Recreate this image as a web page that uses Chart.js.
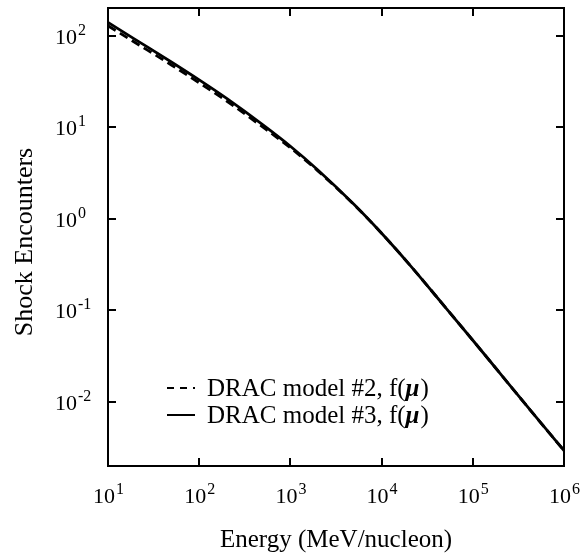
<!DOCTYPE html>
<html>
<head>
<meta charset="utf-8">
<script src="https://cdn.jsdelivr.net/npm/chart.js@4/dist/chart.umd.min.js"></script>
<style>
  body { margin: 0; background: #fff; }
  canvas { display: block; }
</style>
</head>
<body>
<canvas id="myChart" width="582" height="553"></canvas>
<script>
// energy grid (MeV/nucleon)
const energy = [10, 20, 50, 100, 200, 500, 1000, 2000, 5000, 1e4, 2e4, 5e4, 1e5, 2e5, 5e5, 1e6];
// shock encounters
const model2 = [128, 83.5, 47.5, 30.5, 19.3, 10.0, 5.95, 3.33, 1.42, 0.695, 0.32, 0.108, 0.0472, 0.0204, 0.00673, 0.00295];
const model3 = [139, 90.4, 51.2, 32.8, 20.6, 10.6, 6.19, 3.41, 1.43, 0.695, 0.32, 0.108, 0.0472, 0.0204, 0.00673, 0.00295];

const seriesLabels = ["DRAC model #2, f(μ)", "DRAC model #3, f(μ)"];
const xTickValues = [1e1, 1e2, 1e3, 1e4, 1e5, 1e6];
const xTickExp = ["1", "2", "3", "4", "5", "6"];
const yTickValues = [1e-2, 1e-1, 1e0, 1e1, 1e2];
const yTickExp = ["-2", "-1", "0", "1", "2"];
const xTitle = "Energy (MeV/nucleon)";
const yTitle = "Shock Encounters";

const serif = "'Liberation Serif', 'Times New Roman', serif";

function toPoints(ys) {
  return energy.map((e, i) => ({ x: e, y: ys[i] }));
}

// draws "10" with a raised exponent
function drawPower(ctx, exp, x, y, align) {
  ctx.font = `22px ${serif}`;
  const wBase = ctx.measureText("10").width;
  ctx.font = `16px ${serif}`;
  const wExp = ctx.measureText(exp).width;
  let left = x;
  if (align === "center") left = x - (wBase + wExp) / 2;
  ctx.textAlign = "left";
  ctx.textBaseline = "alphabetic";
  ctx.font = `22px ${serif}`;
  ctx.fillText("10", left, y);
  ctx.font = `16px ${serif}`;
  ctx.fillText(exp, left + wBase + 1, y - 9);
}

const frameAndLabels = {
  id: "frameAndLabels",
  afterDraw(chart) {
    const ctx = chart.ctx;
    const a = chart.chartArea;
    const xs = chart.scales.x;
    const ys = chart.scales.y;
    ctx.save();
    ctx.strokeStyle = "#000";
    ctx.fillStyle = "#000";
    ctx.lineWidth = 2;
    ctx.strokeRect(a.left, a.top, a.right - a.left, a.bottom - a.top);

    // inward tick marks on all four sides
    ctx.beginPath();
    xTickValues.forEach((v) => {
      const px = Math.round(xs.getPixelForValue(v));
      ctx.moveTo(px, a.bottom);
      ctx.lineTo(px, a.bottom - 8);
      ctx.moveTo(px, a.top);
      ctx.lineTo(px, a.top + 8);
    });
    yTickValues.forEach((v) => {
      const py = Math.round(ys.getPixelForValue(v));
      ctx.moveTo(a.left, py);
      ctx.lineTo(a.left + 8, py);
      ctx.moveTo(a.right, py);
      ctx.lineTo(a.right - 8, py);
    });
    ctx.stroke();

    // tick labels
    xTickValues.forEach((v, i) => {
      drawPower(ctx, xTickExp[i], xs.getPixelForValue(v), a.bottom + 37, "center");
    });
    yTickValues.forEach((v, i) => {
      drawPower(ctx, yTickExp[i], 55, ys.getPixelForValue(v) + 8, "left");
    });

    // axis titles
    ctx.font = `25px ${serif}`;
    ctx.textAlign = "center";
    ctx.textBaseline = "alphabetic";
    ctx.fillText(xTitle, (a.left + a.right) / 2, 547);
    ctx.save();
    ctx.translate(32, (a.top + a.bottom) / 2 + 5);
    ctx.rotate(-Math.PI / 2);
    ctx.font = `26px ${serif}`;
    ctx.fillText(yTitle, 0, 0);
    ctx.restore();

    // legend
    chart.data.datasets.forEach((ds, i) => {
      const base = 396 + i * 27;
      ctx.beginPath();
      ctx.lineWidth = 2;
      ctx.setLineDash(ds.borderDash ? [7, 6] : []);
      ctx.moveTo(167, base - 8);
      ctx.lineTo(195, base - 8);
      ctx.stroke();
      ctx.setLineDash([]);
      const parts = ds.label.split("μ");
      ctx.textAlign = "left";
      let x = 207;
      ctx.font = `25px ${serif}`;
      ctx.fillText(parts[0], x, base);
      x += ctx.measureText(parts[0]).width;
      ctx.font = `italic bold 25px ${serif}`;
      ctx.fillText("μ", x, base);
      x += ctx.measureText("μ").width + 1;
      ctx.font = `25px ${serif}`;
      ctx.fillText(parts[1], x, base);
    });
    ctx.restore();
  },
};

new Chart("myChart", {
  type: "line",
  data: {
    datasets: [
      {
        label: seriesLabels[0],
        data: toPoints(model2),
        borderColor: "#000",
        borderWidth: 2.8,
        borderDash: [9, 5],
        pointRadius: 0,
        cubicInterpolationMode: "monotone",
      },
      {
        label: seriesLabels[1],
        data: toPoints(model3),
        borderColor: "#000",
        borderWidth: 2.8,
        pointRadius: 0,
        cubicInterpolationMode: "monotone",
      },
    ],
  },
  options: {
    responsive: false,
    animation: false,
    layout: { padding: { left: 108, right: 18, top: 8, bottom: 87 } },
    plugins: {
      legend: { display: false },
      tooltip: { enabled: false },
    },
    scales: {
      x: {
        type: "logarithmic",
        min: 10,
        max: 1e6,
        grid: { display: false, drawTicks: false },
        border: { display: false },
        ticks: { display: false },
      },
      y: {
        type: "logarithmic",
        min: 0.002,
        max: 200,
        grid: { display: false, drawTicks: false },
        border: { display: false },
        ticks: { display: false },
      },
    },
  },
  plugins: [frameAndLabels],
});
</script>
</body>
</html>
